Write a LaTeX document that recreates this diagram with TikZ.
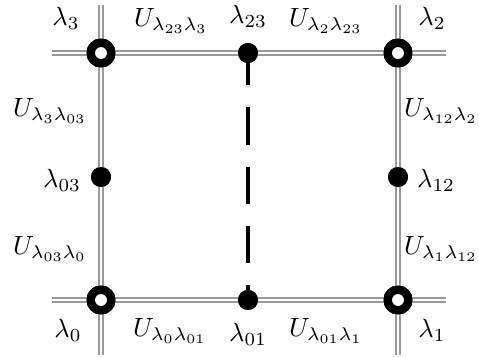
\documentclass[tikz,border=0pt]{standalone}
\usepackage{amsmath}
\usepackage{tikz}
\usetikzlibrary{positioning}

\begin{document}
\begin{tikzpicture}[
    x=0.016cm, y=-0.016cm,
    wire/.style={draw=gray!80, double=white, double distance=1.1pt, line width=0.75pt},
    corner/.style={circle, draw, fill=white, line width=3.8pt, minimum size=0.33cm, inner sep=0pt},
    midpt/.style={circle, fill=black, minimum size=0.32cm, inner sep=0pt},
    cut/.style={line width=1.9pt, dash pattern=on 17pt off 10pt, dash phase=7pt},
    lab/.style={scale=1.2},
]
\useasboundingbox (0,0) rectangle (479,358);

% free ends of the wires
\coordinate (wt) at (52,53);  \coordinate (et) at (446,53);
\coordinate (wb) at (52,300); \coordinate (eb) at (446,300);
\coordinate (nl) at (101,5);  \coordinate (sl) at (101,355);
\coordinate (nr) at (398,5);  \coordinate (sr) at (398,355);

\node[corner] (l3) at (101,53) {};
\node[corner] (l2) at (398,53) {};
\node[corner] (l0) at (101,300) {};
\node[corner] (l1) at (398,300) {};
\node[midpt] (l23) at (248,53) {};
\node[midpt] (l01) at (248,300) {};
\node[midpt] (l03) at (101,177) {};
\node[midpt] (l12) at (398,177) {};

\draw[wire] (wt) -- (et);
\draw[wire] (wb) -- (eb);
\draw[wire] (nl) -- (sl);
\draw[wire] (nr) -- (sr);
\draw[cut] (l23) -- (l01);
% redraw nodes over the wires
\node[corner] at (l3) {}; \node[corner] at (l2) {};
\node[corner] at (l0) {}; \node[corner] at (l1) {};
\node[midpt] at (l23) {}; \node[midpt] at (l01) {};
\node[midpt] at (l03) {}; \node[midpt] at (l12) {};

% labels
\node[lab] (t3) at (66,18) {$\lambda_3$};
\node[lab] (t2) at (432,18) {$\lambda_2$};
\node[lab] (t0) at (68,330) {$\lambda_0$};
\node[lab] (t1) at (432,330) {$\lambda_1$};
\node[lab] (t23) at (248,16) {$\lambda_{23}$};
\node[lab] (t01) at (248,334) {$\lambda_{01}$};
\node[lab] (t03) at (62,180) {$\lambda_{03}$};
\node[lab] (t12) at (436,180) {$\lambda_{12}$};
\node[lab] (u233) at (171,21) {$U_{\lambda_{23}\lambda_3}$};
\node[lab] (u223) at (326,21) {$U_{\lambda_2\lambda_{23}}$};
\node[lab] (u001) at (170,331) {$U_{\lambda_0\lambda_{01}}$};
\node[lab] (u011) at (326,331) {$U_{\lambda_{01}\lambda_1}$};
\node[lab] (u303) at (50,111) {$U_{\lambda_3\lambda_{03}}$};
\node[lab] (u030) at (50,249) {$U_{\lambda_{03}\lambda_0}$};
\node[lab] (u122) at (441,111) {$U_{\lambda_{12}\lambda_2}$};
\node[lab] (u112) at (441,249) {$U_{\lambda_1\lambda_{12}}$};
\end{tikzpicture}
\end{document}
